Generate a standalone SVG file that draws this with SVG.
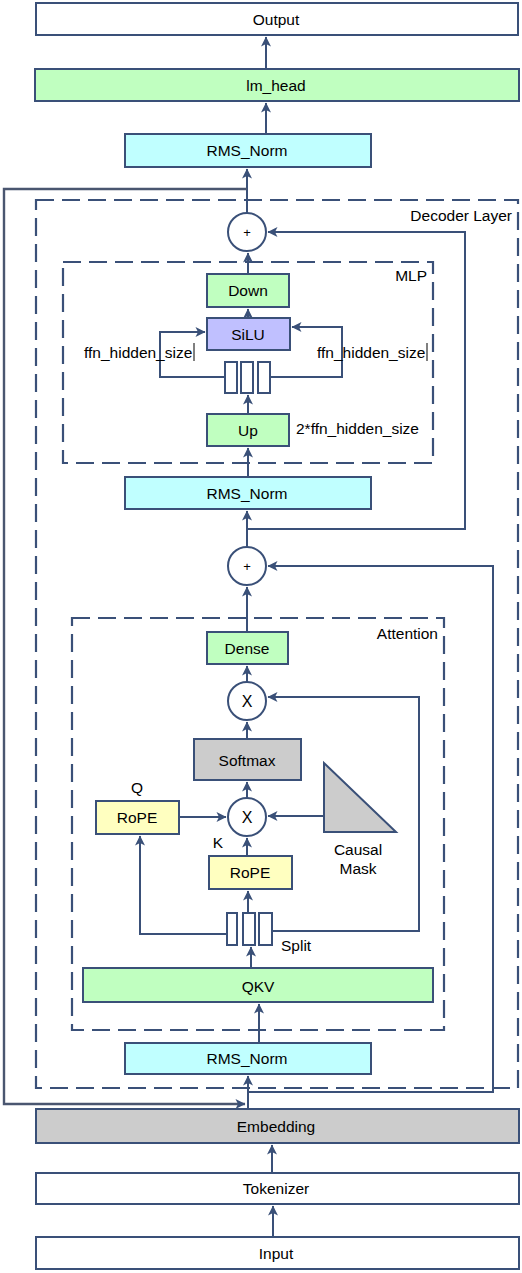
<svg xmlns="http://www.w3.org/2000/svg" width="522" height="1273" viewBox="0 0 522 1273">
<defs>
<style>
.b{stroke:#3a5078;stroke-width:2;}
.w{fill:#ffffff;}
.g{fill:#c0ffc0;}
.c{fill:#c0ffff;}
.p{fill:#c0c0ff;}
.y{fill:#ffffc0;}
.k{fill:#cccccc;}
.d{fill:none;stroke:#3a5078;stroke-width:2.2;stroke-dasharray:18 8;}
.l{fill:none;stroke:#3a5078;stroke-width:2;}
.o{fill:none;stroke:#4a5670;stroke-width:2.4;}
text{font-family:"Liberation Sans",Arial,Helvetica,sans-serif;font-size:15.5px;fill:#000;}
.m{text-anchor:middle;}
.r{text-anchor:end;}
</style>
<marker id="a" viewBox="0 0 10 10" refX="9.5" refY="5" markerWidth="11" markerHeight="10" markerUnits="userSpaceOnUse" orient="auto">
<path d="M0,0 L10,5 L0,10 L2.5,5 Z" fill="#3a5078"/>
</marker>
</defs>
<rect width="522" height="1273" fill="#ffffff"/>

<g id="decoder-layer"><rect class="d" x="36" y="200" width="482" height="888"/><text class="r" x="512" y="221">Decoder Layer</text></g>
<g id="mlp"><rect class="d" x="63" y="262" width="370" height="201"/><text class="r" x="427" y="281">MLP</text></g>
<g id="attention"><rect class="d" x="72" y="618" width="372" height="412"/><text class="r" x="438" y="639">Attention</text></g>

<g id="connectors">
<path class="l" d="M266,69 L266,37" marker-end="url(#a)"/>
<path class="l" d="M266,133 L266,103" marker-end="url(#a)"/>
<path class="l" d="M247,213 L247,169" marker-end="url(#a)"/>
<path class="o" d="M247,189 L4,189 L4,1104 L245,1104" marker-end="url(#a)"/>
<path class="l" d="M248,529 L465,529 L465,232 L268,232" marker-end="url(#a)"/>
<path class="l" d="M248,274 L248,253" marker-end="url(#a)"/>
<path class="l" d="M248,318 L248,309" marker-end="url(#a)"/>
<path class="l" d="M225,377 L160,377 L160,332 L205,332" marker-end="url(#a)"/>
<path class="l" d="M270,377 L342,377 L342,327 L292,327" marker-end="url(#a)"/>
<path class="l" d="M248,414 L248,395" marker-end="url(#a)"/>
<path class="l" d="M248,477 L248,448" marker-end="url(#a)"/>
<path class="l" d="M247,547 L247,511" marker-end="url(#a)"/>
<path class="l" d="M248,1092 L493,1092 L493,566 L268,566" marker-end="url(#a)"/>
<path class="l" d="M247,632 L247,587" marker-end="url(#a)"/>
<path class="l" d="M247,682 L247,666" marker-end="url(#a)"/>
<path class="l" d="M272,931 L419,931 L419,697 L268,697" marker-end="url(#a)"/>
<path class="l" d="M247,739 L247,722" marker-end="url(#a)"/>
<path class="l" d="M247,798 L247,782" marker-end="url(#a)"/>
<path class="l" d="M180,817 L226,817" marker-end="url(#a)"/>
<path class="l" d="M324,816 L268,816" marker-end="url(#a)"/>
<path class="l" d="M247,856 L247,838" marker-end="url(#a)"/>
<path class="l" d="M248,913 L248,891" marker-end="url(#a)"/>
<path class="l" d="M227,934 L140,934 L140,836" marker-end="url(#a)"/>
<path class="l" d="M251,968 L251,947" marker-end="url(#a)"/>
<path class="l" d="M259,1043 L259,1004" marker-end="url(#a)"/>
<path class="l" d="M248,1109 L248,1076" marker-end="url(#a)"/>
<path class="l" d="M272,1173 L272,1145" marker-end="url(#a)"/>
<path class="l" d="M273,1237 L273,1206" marker-end="url(#a)"/>
</g>

<g id="output"><rect class="b w" x="36" y="3" width="482" height="32"/><text class="m" x="276" y="24.5">Output</text></g>
<g id="lm-head"><rect class="b g" x="35" y="69" width="484" height="32"/><text class="m" x="276" y="90.5">lm_head</text></g>
<g id="rms-norm-final"><rect class="b c" x="125" y="134" width="246" height="33"/><text class="m" x="247" y="156">RMS_Norm</text></g>
<g id="add-mlp"><circle class="b w" cx="247" cy="232" r="19"/><text class="m" x="247" y="237" style="font-size:13px">+</text></g>
<g id="down"><rect class="b g" x="207" y="274" width="82" height="33"/><text class="m" x="248" y="296">Down</text></g>
<g id="silu"><rect class="b p" x="207" y="318" width="83" height="32"/><text class="m" x="248" y="339.5">SiLU</text></g>
<g id="mlp-split"><rect class="b w" x="225" y="362" width="12" height="31"/><rect class="b w" x="241" y="362" width="12" height="31"/><rect class="b w" x="258" y="362" width="12" height="31"/></g>
<g id="ffn-labels"><text x="84" y="357.5">ffn_hidden_size</text><line x1="194" y1="343" x2="194" y2="361" stroke="#000" stroke-width="1"/><text x="317" y="357.5">ffn_hidden_size</text><line x1="427" y1="343" x2="427" y2="361" stroke="#000" stroke-width="1"/></g>
<g id="up"><rect class="b g" x="207" y="414" width="82" height="32"/><text class="m" x="248" y="435.5">Up</text><text x="296" y="434">2*ffn_hidden_size</text></g>
<g id="rms-norm-mlp"><rect class="b c" x="125" y="477" width="246" height="32"/><text class="m" x="247" y="498.5">RMS_Norm</text></g>
<g id="add-attn"><circle class="b w" cx="247" cy="566" r="19"/><text class="m" x="247" y="571" style="font-size:13px">+</text></g>
<g id="dense"><rect class="b g" x="207" y="632" width="81" height="32"/><text class="m" x="247" y="653.5">Dense</text></g>
<g id="mul-v"><circle class="b w" cx="247" cy="701" r="19"/><text class="m" x="247" y="707" style="font-size:16px">X</text></g>
<g id="softmax"><rect class="b k" x="194" y="739" width="107" height="41"/><text class="m" x="247" y="765.5">Softmax</text></g>
<g id="mul-qk"><circle class="b w" cx="247" cy="817" r="19"/><text class="m" x="247" y="823" style="font-size:16px">X</text></g>
<g id="rope-q"><rect class="b y" x="96" y="801" width="83" height="33"/><text class="m" x="137" y="823">RoPE</text><text class="m" x="137" y="792.5">Q</text></g>
<g id="causal-mask"><polygon class="b k" points="324,763 324,832 396,832"/><text class="m" x="358" y="854.5">Causal</text><text class="m" x="358" y="874">Mask</text></g>
<g id="rope-k"><rect class="b y" x="209" y="856" width="83" height="33"/><text class="m" x="250" y="878">RoPE</text><text class="m" x="218" y="847.5">K</text></g>
<g id="attn-split"><rect class="b w" x="227" y="913" width="10" height="32"/><rect class="b w" x="243" y="913" width="12" height="32"/><rect class="b w" x="259" y="913" width="13" height="32"/><text x="281" y="951">Split</text></g>
<g id="qkv"><rect class="b g" x="83" y="968" width="350" height="34"/><text class="m" x="258" y="991.5">QKV</text></g>
<g id="rms-norm-attn"><rect class="b c" x="125" y="1043" width="246" height="31"/><text class="m" x="247" y="1064">RMS_Norm</text></g>
<g id="embedding"><rect class="b k" x="36" y="1109" width="483" height="34"/><text class="m" x="276" y="1131.5">Embedding</text></g>
<g id="tokenizer"><rect class="b w" x="36" y="1173" width="483" height="31"/><text class="m" x="276" y="1194">Tokenizer</text></g>
<g id="input"><rect class="b w" x="36" y="1237" width="483" height="32"/><text class="m" x="276" y="1258.5">Input</text></g>
</svg>
